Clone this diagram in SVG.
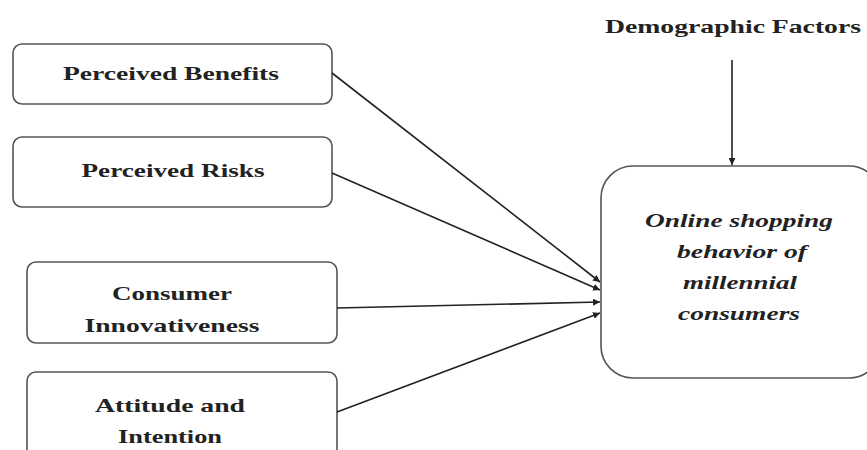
<svg xmlns="http://www.w3.org/2000/svg" width="867" height="450" viewBox="0 0 867 450">
<defs>
<marker id="ah" viewBox="0 0 10 10" refX="10" refY="5" markerWidth="7" markerHeight="7" markerUnits="userSpaceOnUse" orient="auto">
<path d="M0,0 L10,5 L0,10 z" fill="#222"/>
</marker>
<style>
.box{fill:#fff;stroke:#555;stroke-width:1.6}
.t{font-family:"Liberation Serif","Times New Roman",serif;font-weight:bold;font-size:19.5px;fill:#222;text-anchor:middle}
.ti{font-family:"Liberation Serif","Times New Roman",serif;font-weight:bold;font-style:italic;font-size:19.5px;fill:#222;text-anchor:middle}
.c{stroke:#222;stroke-width:1.6;fill:none;marker-end:url(#ah)}
</style>
</defs>
<rect width="867" height="450" fill="#fff"/>
<g id="demographic">
<text class="t" x="733" y="33" textLength="256" lengthAdjust="spacingAndGlyphs">Demographic Factors</text>
</g>
<g id="benefits">
<rect class="box" x="13" y="44" width="319" height="60" rx="9"/>
<text class="t" x="171" y="80" textLength="216" lengthAdjust="spacingAndGlyphs">Perceived Benefits</text>
</g>
<g id="risks">
<rect class="box" x="13" y="137" width="319" height="70" rx="9"/>
<text class="t" x="173" y="177" textLength="183" lengthAdjust="spacingAndGlyphs">Perceived Risks</text>
</g>
<g id="innovativeness">
<rect class="box" x="27" y="262" width="310" height="81" rx="9"/>
<text class="t" x="172" y="300" textLength="120" lengthAdjust="spacingAndGlyphs">Consumer</text>
<text class="t" x="172" y="332" textLength="175" lengthAdjust="spacingAndGlyphs">Innovativeness</text>
</g>
<g id="attitude">
<rect class="box" x="27" y="372" width="310" height="90" rx="9"/>
<text class="t" x="170" y="412" textLength="150" lengthAdjust="spacingAndGlyphs">Attitude and</text>
<text class="t" x="170" y="443" textLength="104" lengthAdjust="spacingAndGlyphs">Intention</text>
</g>
<g id="behavior">
<rect class="box" x="601" y="166" width="280" height="212" rx="32"/>
<text class="ti" x="739" y="227" textLength="188" lengthAdjust="spacingAndGlyphs">Online shopping</text>
<text class="ti" x="742" y="258" textLength="130" lengthAdjust="spacingAndGlyphs">behavior of</text>
<text class="ti" x="740" y="289" textLength="114" lengthAdjust="spacingAndGlyphs">millennial</text>
<text class="ti" x="739" y="320" textLength="122" lengthAdjust="spacingAndGlyphs">consumers</text>
</g>
<g id="connectors">
<line class="c" x1="732" y1="60" x2="732" y2="165"/>
<line class="c" x1="332" y1="73" x2="600" y2="282"/>
<line class="c" x1="332" y1="173" x2="600" y2="290"/>
<line class="c" x1="337" y1="308" x2="600" y2="302"/>
<line class="c" x1="337" y1="412" x2="600" y2="313"/>
</g>
</svg>
